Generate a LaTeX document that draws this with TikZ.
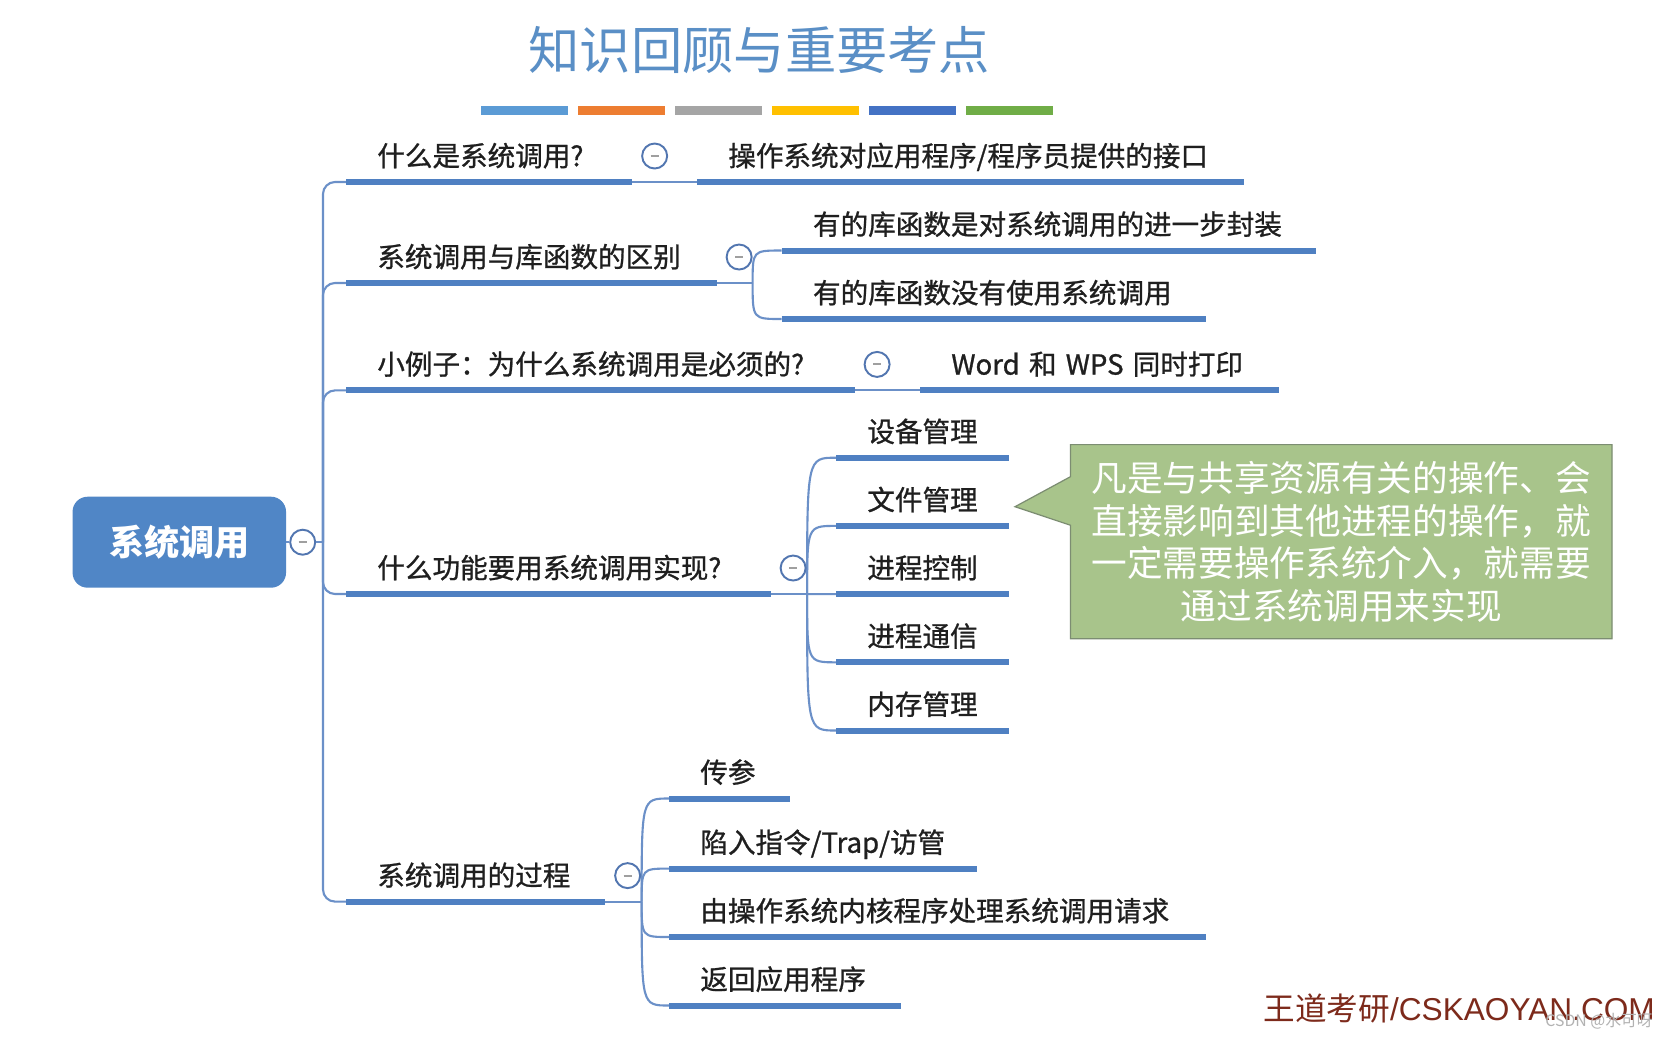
\documentclass[tikz,border=0pt]{standalone}
\usepackage{fontspec}
\setmainfont{Noto Sans CJK SC}
\newfontfamily\topicfont{Noto Sans CJK SC}[FakeBold=0.9]
\newfontfamily\latinfont{Liberation Sans}
\usepackage{xcolor}
\usepackage{tikz}
\usetikzlibrary{
  backgrounds,
}

\definecolor{lineblue}{HTML}{4F80C2}
\definecolor{linklight}{HTML}{6B90C8}
\definecolor{btnblue}{HTML}{5276B0}
\definecolor{rootblue}{HTML}{5086C6}
\definecolor{titleblue}{HTML}{5A8FC6}
\definecolor{notegreen}{HTML}{A8C48B}
\definecolor{noteedge}{HTML}{7C8D72}
\definecolor{brandred}{HTML}{7D2A1B}
\definecolor{barblue}{HTML}{5B9BD5}
\definecolor{barorange}{HTML}{ED7D31}
\definecolor{bargray}{HTML}{A5A5A5}
\definecolor{baryellow}{HTML}{FFC000}
\definecolor{bardark}{HTML}{4472C4}
\definecolor{bargreen}{HTML}{70AD47}

\begin{document}
\begin{tikzpicture}[
  x=0.02cm, y=-0.02cm,
  every node/.style={font=\topicfont\fontsize{15.7}{18}\selectfont, text=black!88},
  topic/.style={
    anchor=south west, text width=#1, align=left,
    inner xsep=0pt, inner ysep=0.21cm, text depth=0.1cm,
    execute at begin node=\hspace*{0.62cm},
  },
  uline/.style={draw=lineblue, line width=0.12cm},
  link/.style={draw=linklight, line width=1.2pt, rounded corners=0.24cm},
  btn/.style={
    circle, draw=btnblue, line width=1.1pt, fill=white,
    minimum size=0.5cm, inner sep=0pt,
    path picture={\draw[gray!75, line width=1.2pt]
      ([xshift=-0.08cm]path picture bounding box.center) --
      ([xshift=0.08cm]path picture bounding box.center);},
  },
  rootbox/.style={
    rectangle, rounded corners=0.3cm, fill=rootblue, text=white,
    font=\rmfamily\bfseries\fontsize{20}{24}\selectfont,
    minimum width=4.27cm, minimum height=1.82cm,
  },
  note/.style={
    minimum width=10.82cm, minimum height=3.87cm, inner sep=0pt,
    align=center, text=white, font=\rmfamily\fontsize{20.3}{24.2}\selectfont,
  },
  notebox/.style={fill=notegreen, draw=noteedge, line width=0.7pt},
]
  \begin{scope}[on background layer]
    \fill[white] (0,0) rectangle (1677,1036);
  \end{scope}
  \useasboundingbox (0,0) rectangle (1677,1036);

  % Title and colour bars
  \node[font=\rmfamily\fontsize{29.2}{32}\selectfont, text=titleblue] (title) at (759.4,50.3) {知识回顾与重要考点};
  \foreach \col [count=\i from 0] in {barblue,barorange,bargray,baryellow,bardark,bargreen}
    \fill[\col] (481+97*\i,106) rectangle ++(87,8.5);

  % Root
  \node[rootbox] (root) at (179.3,542.2) {系统调用};
  \node[btn] (btn0) at (302.7,542.2) {};
  \coordinate (trunk) at (323,542.2);

  % Main branches
  \node[topic=5.71cm]  (b1) at (346,182)   {什么是系统调用?};
  \node[topic=7.40cm]  (b2) at (346,283)   {系统调用与库函数的区别};
  \node[topic=10.16cm] (b3) at (346,390.4) {小例子：为什么系统调用是必须的?};
  \node[topic=8.48cm]  (b4) at (346,594)   {什么功能要用系统调用实现?};
  \node[topic=5.17cm]  (b5) at (346,901.6) {系统调用的过程};

  % Sub topics
  \node[topic=10.92cm] (c11) at (697,182)     {操作系统对应用程序/程序员提供的接口};
  \node[topic=10.68cm] (c21) at (781.7,250.5) {有的库函数是对系统调用的进一步封装};
  \node[topic=8.47cm]  (c22) at (781.7,319)   {有的库函数没有使用系统调用};
  \node[topic=7.16cm]  (c31) at (920,390.4)   {Word 和 WPS 同时打印};
  \foreach \name/\txt [count=\i from 0] in {c41/设备管理, c42/文件管理, c43/进程控制, c44/进程通信, c45/内存管理}
    \node[topic=3.45cm] (\name) at (836,457.7+68.2*\i) {\txt};
  \node[topic=2.41cm]  (c51) at (669,798.5)  {传参};
  \node[topic=6.15cm]  (c52) at (669,868.6)  {陷入指令/Trap/访管};
  \node[topic=10.73cm] (c53) at (669,937)    {由操作系统内核程序处理系统调用请求};
  \node[topic=4.63cm]  (c54) at (669,1005.5) {返回应用程序};

  % Connectors
  \draw[link] (root) -- (btn0) -- (trunk);
  \foreach \b in {b1,b2,b3,b4,b5}
    \draw[link] (trunk) |- (\b.south west);
  \draw[link] (b1.south east) -- (c11.south west);
  \draw[link] (b3.south east) -- (c31.south west);
  \coordinate (f2) at ([xshift=0.72cm]b2.south east);
  \coordinate (f4) at ([xshift=0.73cm]b4.south east);
  \coordinate (f5) at ([xshift=0.73cm]b5.south east);
  \draw[link] (b2.south east) -- (f2);
  \draw[link] (b4.south east) -- (f4);
  \draw[link] (b5.south east) -- (f5);
  \foreach \kid in {c21,c22}
    \draw[link] (f2) .. controls (f2 |- \kid.south west) .. (\kid.south west);
  \foreach \kid in {c41,c42,c43,c44,c45}
    \draw[link] (f4) .. controls (f4 |- \kid.south west) .. (\kid.south west);
  \foreach \kid in {c51,c52,c53,c54}
    \draw[link] (f5) .. controls (f5 |- \kid.south west) .. (\kid.south west);

  % Underlines
  \foreach \t in {b1,b2,b3,b4,b5,c11,c21,c22,c31,c41,c42,c43,c44,c45,c51,c52,c53,c54}
    \draw[uline] (\t.south west) -- (\t.south east);

  % Collapse buttons
  \foreach \b [count=\i] in {b1,b2,b3,b4,b5}
    \node[btn] (btn\i) at ([shift={(0.45cm,0.52cm)}]\b.south east) {};

  % Note
  \node[note] (note) at (1341.2,541.7) {凡是与共享资源有关的操作、会\\直接影响到其他进程的操作，就\\一定需要操作系统介入，就需要\\通过系统调用来实现};
  \coordinate (tip) at (1015,506.7);
  \begin{scope}[on background layer]
    \draw[notebox] (note.north west) -- (note.north east) -- (note.south east) -- (note.south west)
      -- ([yshift=0.33cm]note.west) -- (tip) -- ([yshift=1.3cm]note.west) -- cycle;
  \end{scope}

  % Footer
  \node[anchor=east, text=brandred, font=\rmfamily\fontsize{18}{20}\selectfont] (brand) at (1661,1008.5) {王道考研{\latinfont /CSKAOYAN.COM}};
  \node[anchor=east, text=gray!60, font=\rmfamily\fontsize{9}{10}\selectfont] (csdn) at (1659,1021) {CSDN @水可呀};

\end{tikzpicture}
\end{document}
